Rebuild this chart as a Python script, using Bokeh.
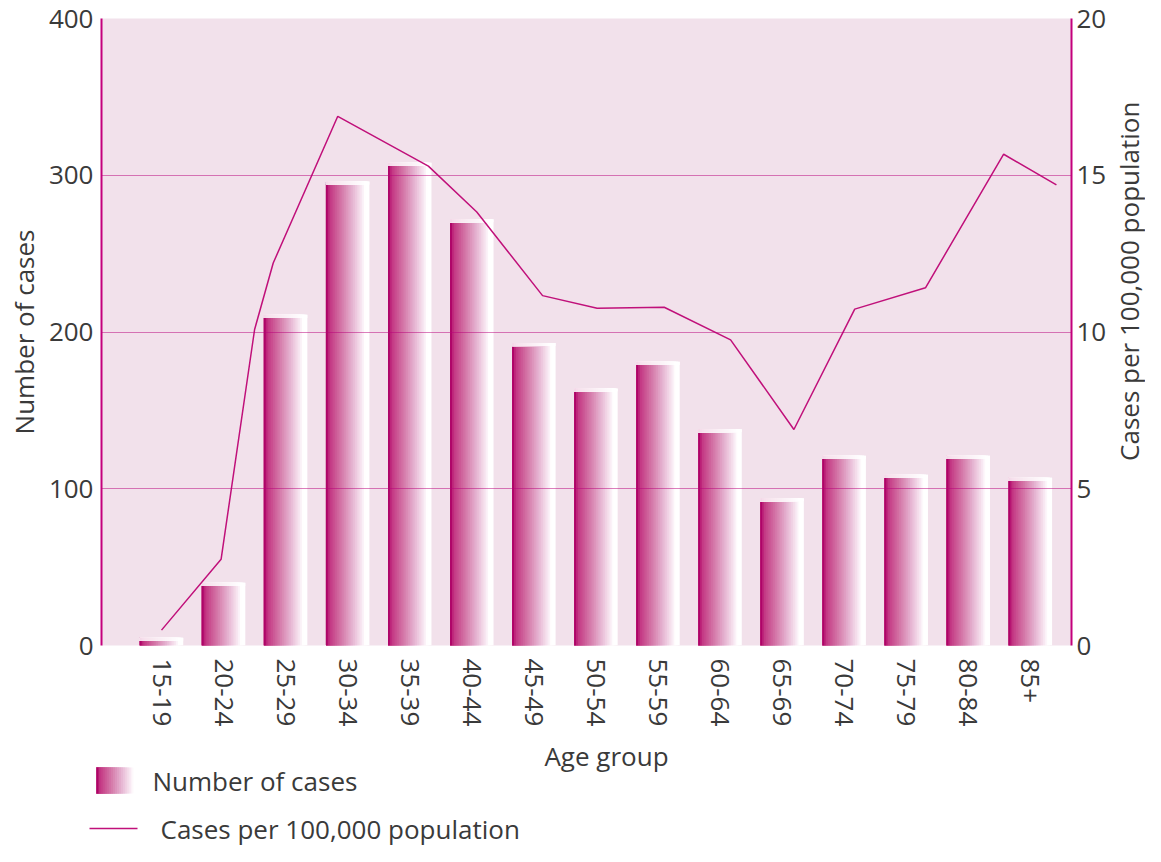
import math
from bokeh.plotting import figure
from bokeh.models import Range1d, LinearAxis, FixedTicker
from bokeh.layouts import column, row
from bokeh.embed import file_html
from bokeh.resources import INLINE
from bokeh.core.properties import value

# ---------------- data ----------------
age_groups = ["15-19", "20-24", "25-29", "30-34", "35-39", "40-44", "45-49",
              "50-54", "55-59", "60-64", "65-69", "70-74", "75-79", "80-84", "85+"]
cases = [5, 40, 211, 296, 308, 272, 193, 164, 181, 138, 94, 121, 109, 121, 107]
# rate line as drawn (vertex positions along the age-group axis, in group units)
rate_pos = [0.0, 0.96, 1.50, 1.80, 2.84, 4.30, 5.08, 6.14, 7.02, 8.10, 9.17,
            10.19, 11.17, 12.31, 13.57, 14.42]
rate = [0.49, 2.75, 10.08, 12.20, 16.88, 15.29, 13.83, 11.16, 10.76, 10.79, 9.75,
        6.89, 10.73, 11.41, 15.67, 14.69]
cases_ticks = [0, 100, 200, 300, 400]
rate_ticks = [0, 5, 10, 15, 20]
grid_ticks = [0, 100, 200, 300]

x_title = "Age group"
y_title = "Number of cases"
y2_title = "Cases per 100,000 population"
legend_labels = ["Number of cases", "Cases per 100,000 population"]

# ---------------- style ----------------
MAGENTA = "#C0107A"
AXIS_COL = "#C4007C"
GRID_COL = "#B8007A"
BG = "#F2E1EB"
TXT = "#3a3a3a"
FONT = "Open Sans"
FS = "26px"

STOPS = [(0.00, (170, 0, 100)), (0.045, (178, 8, 108)), (0.07, (194, 50, 128)),
         (0.35, (212, 118, 167)), (0.60, (229, 178, 208)), (0.82, (248, 232, 242)),
         (0.90, (255, 255, 255)), (1.00, (255, 255, 255))]


def grad(t):
    for (t0, c0), (t1, c1) in zip(STOPS[:-1], STOPS[1:]):
        if t <= t1:
            f = 0 if t1 == t0 else (t - t0) / (t1 - t0)
            return tuple(int(round(a + (b - a) * f)) for a, b in zip(c0, c1))
    return STOPS[-1][1]


def hexc(rgb):
    return "#%02x%02x%02x" % rgb


def lighten(rgb, f):
    return tuple(int(round(c + (255 - c) * f)) for c in rgb)


N = 24
BAR_W = 0.70
CAP = 2.0

# layout (canvas pixels)
TOTAL_W, TOTAL_H = 1145, 846
MAIN_W, MAIN_H = 1111, 735
idx = list(range(len(age_groups)))

p = figure(width=MAIN_W, height=MAIN_H, x_range=Range1d(-0.967, 14.663), y_range=Range1d(0, 400),
           output_backend="svg", toolbar_location=None,
           min_border_left=101, min_border_right=40, min_border_top=18, min_border_bottom=90,
           background_fill_color=BG, border_fill_color="white", outline_line_color=None)
p.extra_y_ranges = {"rate": Range1d(0, 20)}

# grid (drawn over the bars, as in the reference)
p.xgrid.visible = False
p.ygrid.ticker = FixedTicker(ticks=grid_ticks)
p.ygrid.grid_line_color = GRID_COL
p.ygrid.grid_line_dash = "1 1"
p.ygrid.grid_line_width = 1
p.ygrid.level = "guide"

# bars: horizontal gradient built from nested layers anchored at each bar's left edge
sw = BAR_W / N
layers = []
for k in range(N):           # widest (lightest) first, narrowest (darkest) last
    n = N - k
    w = n * sw
    col = grad((n - 0.5) / N)
    layers.append((w, col))
for w, col in layers:
    xk = [i - BAR_W / 2 + w / 2 for i in idx]
    p.vbar(x=xk, top=cases, bottom=0, width=w, fill_color=hexc(col), line_color=None)
for w, col in layers:
    xk = [i - BAR_W / 2 + w / 2 for i in idx]
    p.vbar(x=xk, top=cases, bottom=[c - CAP for c in cases], width=w,
           fill_color=hexc(lighten(col, 0.85)), line_color=None)

# rate line
p.line(x=rate_pos, y=rate, y_range_name="rate", line_color=MAGENTA, line_width=1.5)

# x axis
xa = p.xaxis[0]
xa.ticker = FixedTicker(ticks=idx)
xa.major_label_overrides = {i: g for i, g in enumerate(age_groups)}
xa.major_label_orientation = "vertical"
xa.axis_line_color = None
xa.major_tick_line_color = None
xa.minor_tick_line_color = None
xa.major_tick_out = 0
xa.major_tick_in = 0
xa.major_label_standoff = 13

# left axis
ya = p.yaxis[0]
ya.ticker = FixedTicker(ticks=cases_ticks)
ya.axis_label = y_title
ya.axis_label_standoff = 4
ya.major_label_standoff = 8

ar = LinearAxis(y_range_name="rate", ticker=FixedTicker(ticks=rate_ticks))
ar.major_label_standoff = 5
p.add_layout(ar, "right")

for ax in (ya, ar):
    ax.axis_line_color = AXIS_COL
    ax.axis_line_width = 2
    ax.major_tick_line_color = None
    ax.minor_tick_line_color = None
    ax.major_tick_out = 0
    ax.major_tick_in = 0

for ax in (xa, ya, ar):
    ax.major_label_text_font = FONT
    ax.major_label_text_font_size = FS
    ax.major_label_text_color = TXT
    ax.axis_label_text_font = FONT
    ax.axis_label_text_font_size = FS
    ax.axis_label_text_color = TXT
    ax.axis_label_text_font_style = "normal"

# ---------------- right-hand axis title (reads bottom-to-top) ----------------
SIDE_W = TOTAL_W - MAIN_W
side = figure(width=SIDE_W, height=MAIN_H, x_range=Range1d(0, SIDE_W), y_range=Range1d(MAIN_H, 0),
              output_backend="svg", toolbar_location=None, x_axis_type=None, y_axis_type=None,
              min_border=0, outline_line_color=None, background_fill_color="white",
              border_fill_color="white")
side.grid.visible = False
side.text(x=[SIDE_W / 2], y=[308], text=[y2_title], angle=math.pi / 2,
          text_align="center", text_baseline="middle", text_font=value(FONT),
          text_font_size=FS, text_color=TXT)

# ---------------- x title + legend (strip below) ----------------
LG_TOP, LG_BOT = MAIN_H, TOTAL_H
lg = figure(width=TOTAL_W, height=LG_BOT - LG_TOP, x_range=Range1d(0, TOTAL_W),
            y_range=Range1d(LG_BOT, LG_TOP), output_backend="svg", toolbar_location=None,
            x_axis_type=None, y_axis_type=None, min_border=0, outline_line_color=None,
            background_fill_color="white", border_fill_color="white")
lg.grid.visible = False

lg.text(x=[606], y=[755], text=[x_title], text_font=value(FONT), text_font_size=FS,
        text_color=TXT, text_align="center", text_baseline="middle")

SW_L, SW_R, SW_T, SW_B = 96, 137, 767, 793
NS = 20
sww = (SW_R - SW_L) / NS
swr = [SW_L + sww * (NS - k) for k in range(NS)]
swc = [hexc(grad((NS - k - 0.5) / NS)) for k in range(NS)]
lg.quad(left=[SW_L] * NS, right=swr, top=[SW_T] * NS, bottom=[SW_B] * NS,
        fill_color=swc, line_color=None)
lg.text(x=[152], y=[(SW_T + SW_B) / 2], text=[legend_labels[0]], text_font=value(FONT),
        text_font_size=FS, text_color=TXT, text_baseline="middle")

LN_Y = 828
lg.line(x=[89, 137], y=[LN_Y, LN_Y], line_color=MAGENTA, line_width=1.5)
lg.text(x=[160], y=[LN_Y], text=[legend_labels[1]], text_font=value(FONT),
        text_font_size=FS, text_color=TXT, text_baseline="middle")

layout = column(row(p, side, spacing=0), lg, spacing=0)
open("out.html", "w").write(file_html(layout, INLINE))
